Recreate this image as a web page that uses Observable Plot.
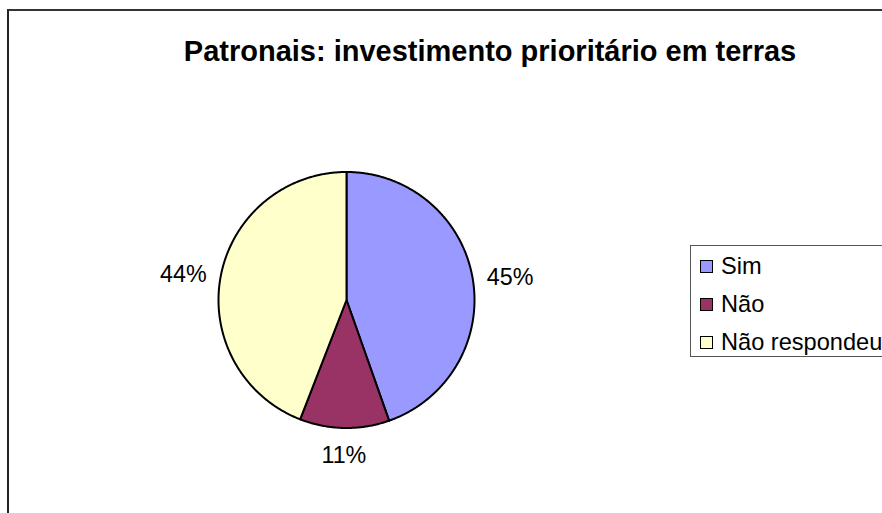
<!DOCTYPE html>
<html>
<head>
<meta charset="utf-8">
<script src="https://cdn.jsdelivr.net/npm/d3@7"></script>
<script src="https://cdn.jsdelivr.net/npm/@observablehq/plot@0.6"></script>
<style>
  html, body { margin: 0; padding: 0; background: #fff; }
  #wrap { position: relative; width: 882px; height: 513px; overflow: hidden; font-family: "Liberation Sans", Arial, sans-serif; background: #fff; }
  #border { position: absolute; left: 7px; top: 9px; width: 1000px; height: 1000px; border-left: 2px solid #222; border-top: 2px solid #333; box-sizing: border-box; }
  #title { position: absolute; left: 0; width: 980px; top: 33px; text-align: center; font-weight: bold; font-size: 29px; line-height: 36px; color: #000; white-space: nowrap; }
  #chart { position: absolute; left: 0; top: 0; }
  #legend { position: absolute; left: 690px; top: 245px; width: 300px; height: 112px; border: 1px solid #555; box-sizing: border-box; background: #fff; }
  .lg-sw { position: absolute; width: 13px; height: 13px; border: 1px solid #000; box-sizing: border-box; }
  .lg-tx { position: absolute; font-size: 23.6px; line-height: 28px; color: #000; white-space: nowrap; }
</style>
</head>
<body>
<div id="wrap">
  <div id="border"></div>
  <div id="title"></div>
  <div id="chart"></div>
  <div id="legend"></div>
</div>
<script>
const titleText = "Patronais: investimento prioritário em terras";
const categories = ["Sim", "Não", "Não respondeu"];
const shares = [0.446, 0.113, 0.441];
const colors = ["#9999FF", "#993366", "#FFFFCC"];

document.getElementById("title").textContent = titleText;

// Pie geometry (unit radius, clockwise from 12 o'clock)
const R = 128; // pixel radius
const total = d3.sum(shares);
let acc = 0;
const slices = categories.map((c, i) => {
  const a0 = acc / total * 2 * Math.PI;
  acc += shares[i];
  const a1 = acc / total * 2 * Math.PI;
  return { cat: c, value: shares[i], a0, a1 };
});

const pts = [];
for (const s of slices) {
  pts.push({ cat: s.cat, x: 0, y: 0 });
  const n = Math.max(2, Math.ceil((s.a1 - s.a0) / (Math.PI / 360)));
  for (let k = 0; k <= n; k++) {
    const a = s.a0 + (s.a1 - s.a0) * k / n;
    pts.push({ cat: s.cat, x: Math.sin(a), y: Math.cos(a) });
  }
  pts.push({ cat: s.cat, x: 0, y: 0 });
}

const fmt = d3.format(".0%");
const labels = slices.map(s => {
  const m = (s.a0 + s.a1) / 2;
  return { x: (1 + 38 / R) * Math.sin(m), y: (1 + 25 / R) * Math.cos(m), text: fmt(s.value) };
});

const cx = 346, cyPx = 299.5, W = 882, H = 513;
const plot = Plot.plot({
  width: W,
  height: H,
  margin: 0,
  x: { domain: [-cx / R, (W - cx) / R], axis: null },
  y: { domain: [-(H - cyPx) / R, cyPx / R], axis: null },
  color: { domain: categories, range: colors },
  style: { background: "transparent", fontFamily: "Liberation Sans, Arial, sans-serif" },
  marks: [
    Plot.line(pts, { x: "x", y: "y", z: "cat", fill: "cat", stroke: "#000", strokeWidth: 2, strokeLinejoin: "round", curve: "linear" }),
    Plot.text(labels, { x: "x", y: "y", text: "text", fontSize: 23.3, fill: "#000", dy: 3 })
  ]
});
document.getElementById("chart").appendChild(plot);

// Legend
const legend = d3.select("#legend");
categories.forEach((c, i) => {
  const cyL = 20 + i * 38; // relative center
  legend.append("div").attr("class", "lg-sw")
    .style("left", "9px").style("top", (cyL - 6.5) + "px")
    .style("background", colors[i]);
  legend.append("div").attr("class", "lg-tx")
    .style("left", "30px").style("top", (cyL - 14) + "px")
    .text(c);
});
</script>
</body>
</html>
